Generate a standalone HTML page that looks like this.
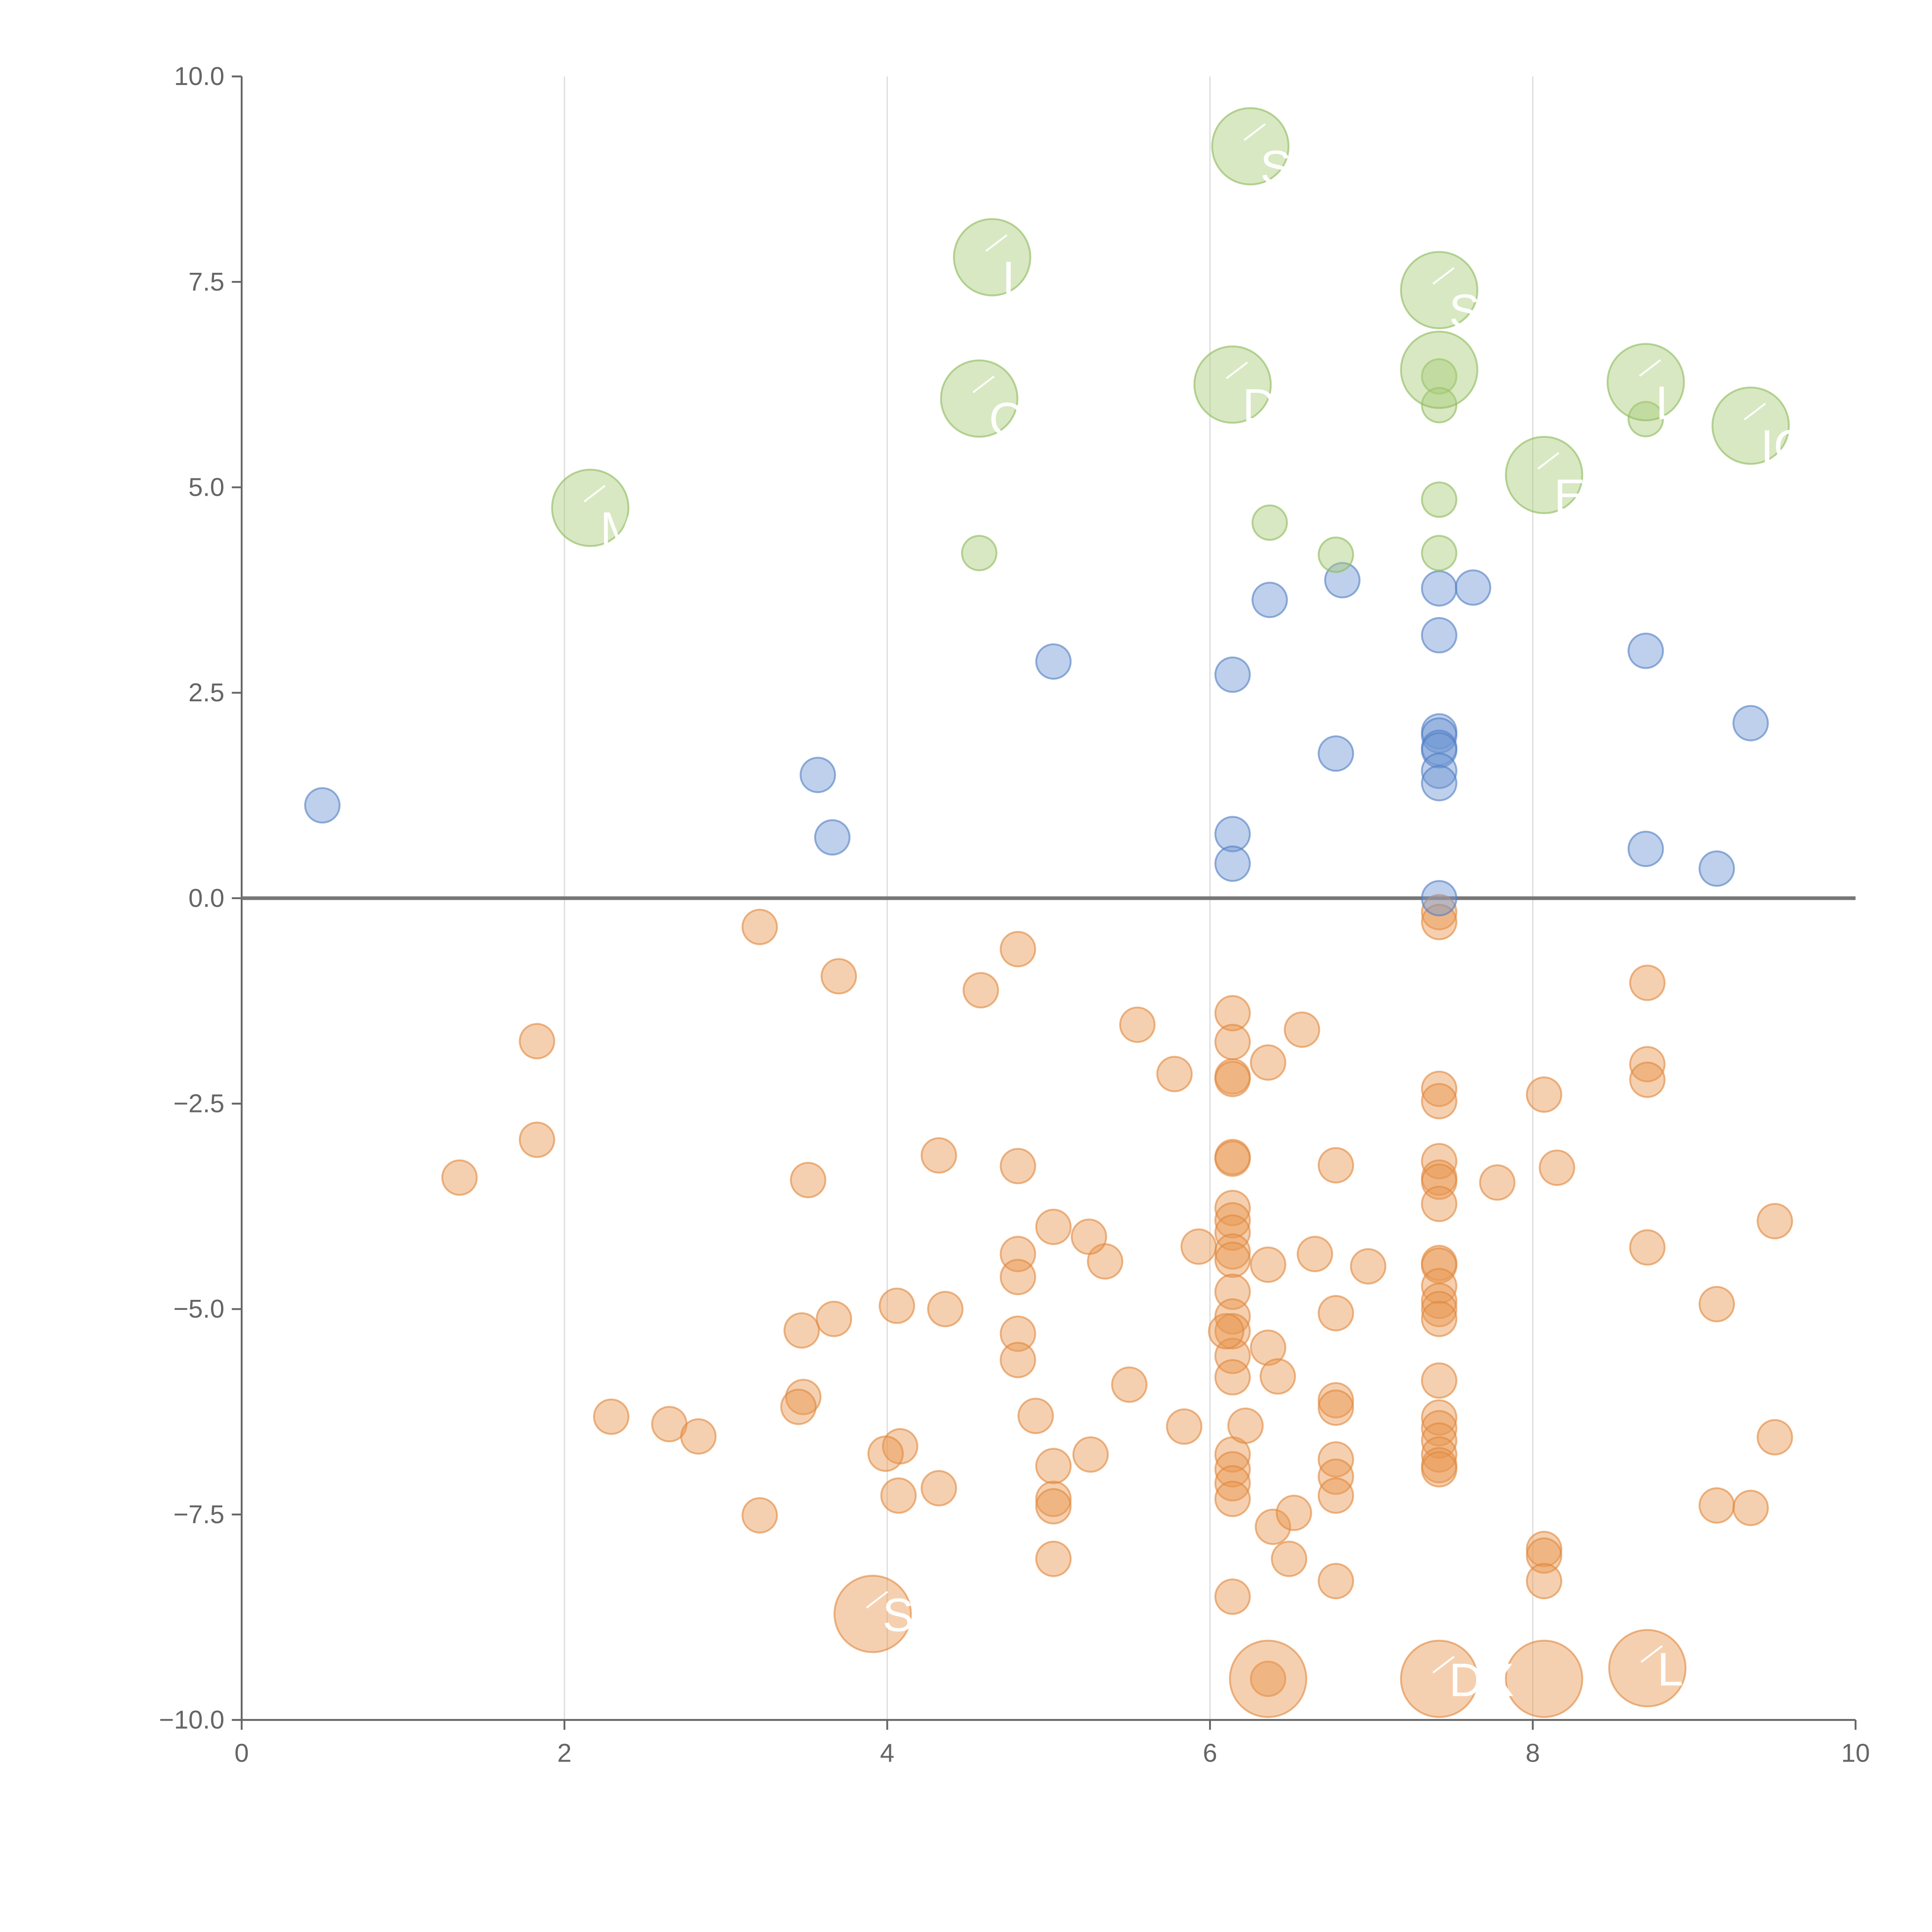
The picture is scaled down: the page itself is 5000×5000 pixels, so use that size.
<!DOCTYPE html>
<html><head><meta charset="utf-8">
<style>html,body{margin:0;padding:0;background:#fff}svg{display:block}text{font-family:"Liberation Sans",Arial,sans-serif}</style>
</head><body>
<svg id="chart" width="5000" height="5000" viewBox="0 0 1567 1567" xmlns="http://www.w3.org/2000/svg">
<g id="grid"></g>
<g id="axes"></g>
<g id="marks"></g>
<g id="labels"></g>
</svg>
<script>
const xTicks = [0, 2, 4, 6, 8, 10];
const yTicks = [10, 7.5, 5, 2.5, 0, -2.5, -5, -7.5, -10];
const yTickLabels = ["10.0", "7.5", "5.0", "2.5", "0.0", "\u22122.5", "\u22125.0", "\u22127.5", "\u221210.0"];

const greenBigX = [6.25, 4.65, 7.42, 7.42, 6.14, 4.57, 8.70, 9.35, 8.07, 2.16];
const greenBigY = [9.15, 7.80, 7.40, 6.43, 6.25, 6.08, 6.28, 5.75, 5.15, 4.75];
const greenBigLabel = ["S", "I", "S", "", "DX", "O", "L", "IC", "EI", "M"];
const greenX = [7.42, 7.42, 8.70, 7.42, 6.37, 4.57, 6.78, 7.42];
const greenY = [6.35, 6.00, 5.83, 4.85, 4.57, 4.20, 4.18, 4.20];

const blueX = [0.50, 3.57, 3.66, 5.03, 6.14, 6.14, 6.14, 6.37, 6.82, 6.78, 7.42, 7.63, 7.42, 7.42, 7.42, 7.42, 7.42, 7.42, 7.42, 7.42, 8.70, 8.70, 9.14, 9.35];
const blueY = [1.13, 1.50, 0.74, 2.88, 2.72, 0.78, 0.42, 3.63, 3.87, 1.76, 3.77, 3.78, 3.20, 2.03, 1.98, 1.83, 1.80, 1.55, 1.40, 0.00, 3.01, 0.60, 0.36, 2.13];

const orangeX = [3.21,3.70,4.81,4.58,1.83,1.83,1.35,3.51,4.32,4.81,5.55,5.78,6.14,6.14,6.14,6.14,6.36,6.57,6.14,6.14,6.14,6.14,6.14,6.14,6.14,6.14,6.14,6.14,6.14,6.14,6.10,6.14,6.14,6.14,6.14,6.14,
7.42,7.42,7.42,7.42,7.42,7.42,7.42,7.42,7.42,7.42,7.42,7.42,7.42,7.42,7.42,7.42,7.42,7.42,7.42,7.42,7.42,
8.07,8.15,7.78,8.71,8.71,8.71,8.71,9.50,9.14,9.50,9.14,9.35,8.07,8.07,8.07,
6.78,6.78,6.78,6.78,6.78,6.78,6.78,6.78,6.98,6.65,6.36,6.36,6.42,6.22,6.39,6.52,6.49,5.93,5.84,5.50,5.35,5.25,5.03,5.26,5.03,5.03,5.03,5.03,4.92,
4.81,4.81,4.81,4.81,4.36,4.06,4.08,3.99,4.07,4.32,3.67,3.47,3.48,3.45,3.21,2.29,2.65,2.83,6.36];
const orangeY = [-0.35,-0.95,-0.62,-1.12,-1.74,-2.94,-3.40,-3.43,-3.13,-3.26,-1.54,-2.14,-1.40,-1.75,-2.17,-2.20,-2.00,-1.60,-3.15,-3.17,-3.77,-3.92,-4.07,-4.30,-4.40,-4.79,-5.09,-5.27,-5.57,-5.83,-5.27,-6.77,-6.95,-7.12,-7.31,-8.50,
-2.32,-2.47,-3.20,-3.40,-3.45,-3.72,-4.44,-4.47,-4.72,-4.90,-5.00,-5.12,-5.87,-6.32,-6.45,-6.60,-6.77,-6.90,-6.95,-0.17,-0.29,
-2.39,-3.28,-3.46,-1.03,-2.02,-2.21,-4.25,-3.93,-4.94,-6.56,-7.39,-7.42,-7.92,-8.00,-8.31,
-3.25,-5.05,-6.11,-6.20,-6.83,-7.04,-7.27,-8.31,-4.48,-4.33,-4.46,-5.47,-5.82,-6.42,-7.65,-7.48,-8.04,-4.24,-6.43,-5.92,-4.42,-4.12,-4.00,-6.77,-6.91,-7.31,-7.40,-8.04,-6.30,
-4.33,-4.61,-5.30,-5.62,-5.00,-4.96,-6.67,-6.76,-7.27,-7.18,-5.12,-5.26,-6.07,-6.19,-7.51,-6.31,-6.40,-6.55,-9.50];
const orangeBigX = [3.91, 6.36, 7.42, 8.07, 8.71];
const orangeBigY = [-8.71, -9.50, -9.50, -9.50, -9.37];
const orangeBigLabel = ["S", "", "DX", "", "LE"];

const X0 = 196, X1 = 1505, Y0 = 1395, Y1 = 62;
const xs = v => X0 + (v - 0) / 10 * (X1 - X0);
const ys = v => Y0 - (v + 10) / 20 * (Y0 - Y1);
const NS = "http://www.w3.org/2000/svg";
function mk(tag, attrs, parent) {
  const e = document.createElementNS(NS, tag);
  for (const k in attrs) e.setAttribute(k, attrs[k]);
  parent.appendChild(e);
  return e;
}
const grid = document.getElementById('grid'), axes = document.getElementById('axes');
const marks = document.getElementById('marks'), labels = document.getElementById('labels');

xTicks.forEach(t => {
  if (t > 0 && t < 10) {
    const g = mk('line', {x1: xs(t), x2: xs(t), y1: Y1, y2: Y0, stroke: '#dcdcdc', 'stroke-width': 1}, grid);
    
    
  }
  const tk = mk('line', {x1: xs(t), x2: xs(t), y1: Y0, y2: Y0 + 8, stroke: '#666', 'stroke-width': 1.5}, axes);
  
  
  const tl = mk('text', {x: xs(t), y: Y0 + 34, 'text-anchor': 'middle', 'font-size': 21, fill: '#666'}, axes);
  tl.textContent = t;
  
  
});
yTicks.forEach((t, i) => {
  const tk = mk('line', {x1: X0 - 8, x2: X0, y1: ys(t), y2: ys(t), stroke: '#666', 'stroke-width': 1.5}, axes);
  
  
  const tl = mk('text', {x: X0 - 14, y: ys(t) + 7, 'text-anchor': 'end', 'font-size': 21, fill: '#666'}, axes);
  tl.textContent = yTickLabels[i];
  
  
});
const ya = mk('line', {x1: X0, x2: X0, y1: Y1, y2: Y0, stroke: '#666', 'stroke-width': 1.5}, axes);


const xa = mk('line', {x1: X0, x2: X1, y1: Y0, y2: Y0, stroke: '#666', 'stroke-width': 1.5}, axes);


const zl = mk('line', {x1: X0, x2: X1, y1: ys(0), y2: ys(0), stroke: '#777', 'stroke-width': 3}, axes);



function dots(X, Y, r, fill, stroke, name) {
  X.forEach((x, i) => {
    const c = mk('circle', {cx: xs(x), cy: ys(Y[i]), r: r, fill: fill, stroke: stroke, 'stroke-width': 1.5}, marks);
    
    
  });
}
const gF = 'rgba(168,204,120,0.45)', gS = 'rgba(140,185,90,0.6)';
const bF = 'rgba(110,150,210,0.45)', bS = 'rgba(80,125,195,0.6)';
const oF = 'rgba(232,150,80,0.45)', oS = 'rgba(225,135,60,0.6)';
dots(orangeX, orangeY, 14, oF, oS, 'orange-point');
dots(orangeBigX, orangeBigY, 31, oF, oS, 'orange-large-bubble');
dots(blueX, blueY, 14, bF, bS, 'blue-point');
dots(greenX, greenY, 14, gF, gS, 'green-point');
dots(greenBigX, greenBigY, 31, gF, gS, 'green-large-bubble');

function labs(X, Y, L, dy) {
  X.forEach((x, i) => {
    if (!L[i]) return;
    const cx = xs(x), cy = ys(Y[i]);
    const ln = mk('line', {x1: cx - 5, y1: cy - 5, x2: cx + 12, y2: cy - 18, stroke: '#fff', 'stroke-width': 1.5}, labels);
    
    
    const t = mk('text', {x: cx + 8, y: cy + dy, 'font-size': 38, fill: '#fff'}, labels);
    t.textContent = L[i];
    
    
  });
}
labs(greenBigX, greenBigY, greenBigLabel, 30);
labs(orangeBigX, orangeBigY, orangeBigLabel, 14);
</script>
</body></html>
